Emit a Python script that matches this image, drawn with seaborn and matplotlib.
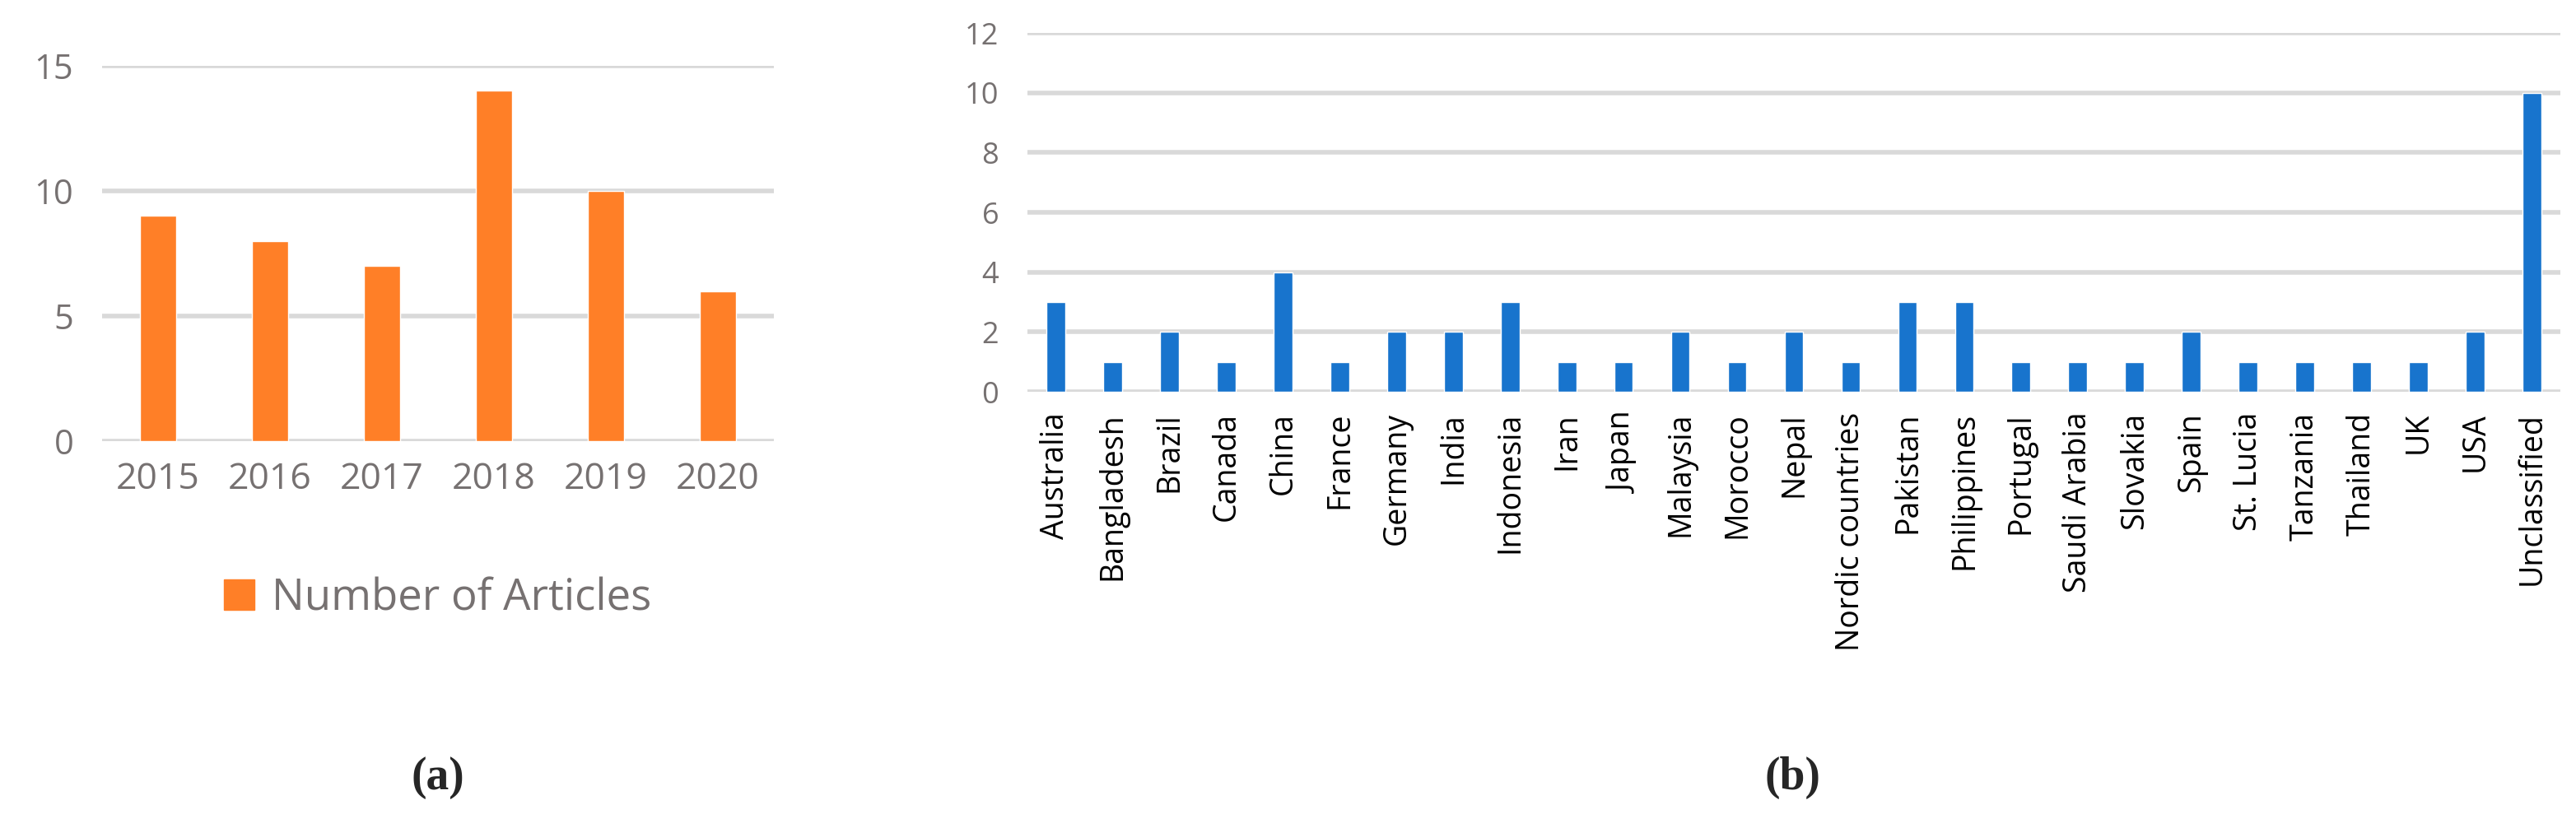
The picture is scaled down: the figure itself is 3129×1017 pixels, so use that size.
import matplotlib.pyplot as plt
import pandas as pd
import seaborn as sns
from matplotlib.patches import Patch

years = ["2015", "2016", "2017", "2018", "2019", "2020"]
articles = [9, 8, 7, 14, 10, 6]

countries = [
    "Australia", "Bangladesh", "Brazil", "Canada", "China", "France", "Germany",
    "India", "Indonesia", "Iran", "Japan", "Malaysia", "Morocco", "Nepal",
    "Nordic countries", "Pakistan", "Philippines", "Portugal", "Saudi Arabia",
    "Slovakia", "Spain", "St. Lucia", "Tanzania", "Thailand", "UK", "USA",
    "Unclassified",
]
country_counts = [3, 1, 2, 1, 4, 1, 2, 2, 3, 1, 1, 2, 1, 2, 1, 3, 3, 1, 1, 1, 2,
                  1, 1, 1, 1, 2, 10]

ORANGE = "#FF7F27"
BLUE = "#1874CD"
GRID = "#D9D9D9"
TEXT = "#767171"

sns.set_theme(style="white")
plt.rcParams["font.family"] = ["Open Sans", "DejaVu Sans"]

fig = plt.figure(figsize=(31.29, 10.17), dpi=100)
ax_a = fig.add_axes([124 / 3129, 1 - 536 / 1017, 816 / 3129, 456 / 1017])
ax_b = fig.add_axes([1248 / 3129, 1 - 476 / 1017, 1862 / 3129, 436 / 1017])

# panel (a)
df_a = pd.DataFrame({"year": years, "n": articles})
sns.barplot(data=df_a, x="year", y="n", color=ORANGE, saturation=1, width=0.32, ax=ax_a)
ax_a.set_ylim(0, 15)
ax_a.set_yticks([0, 5, 10, 15])
ax_a.set_xlim(-0.5, 5.5)

# panel (b)
df_b = pd.DataFrame({"country": countries, "n": country_counts})
sns.barplot(data=df_b, x="country", y="n", color=BLUE, saturation=1, width=0.33, ax=ax_b)
ax_b.set_ylim(0, 12)
ax_b.set_yticks(range(0, 13, 2))
ax_b.set_xlim(-0.5, len(countries) - 0.5)
ax_b.tick_params(axis="x", rotation=90)

for ax, fs_y, fs_x in [(ax_a, 30, 32), (ax_b, 26, 27)]:
    ax.set_xlabel("")
    ax.set_ylabel("")
    ax.grid(axis="y", color=GRID, linewidth=4)
    ax.set_axisbelow(True)
    for s in ax.spines.values():
        s.set_visible(False)
    ax.tick_params(axis="y", labelsize=fs_y, labelcolor=TEXT, length=0, pad=25)
    ax.tick_params(axis="x", labelsize=fs_x, labelcolor=TEXT if ax is ax_a else "black",
                   length=0, pad=18)

ax_a.legend(handles=[Patch(color=ORANGE, label="Number of Articles")],
            loc="center", bbox_to_anchor=(0.5, -0.42), frameon=False,
            fontsize=38, labelcolor=TEXT, handlelength=0.7, handleheight=0.7,
            handletextpad=0.4)

fig.text(532 / 3129, 1 - 945 / 1017, "(a)", ha="center", va="center",
         fontsize=40, family="Liberation Serif", weight="bold")
fig.text(2178 / 3129, 1 - 945 / 1017, "(b)", ha="center", va="center",
         fontsize=40, family="Liberation Serif", weight="bold")

fig.savefig("out.png", dpi=100, facecolor="white")
